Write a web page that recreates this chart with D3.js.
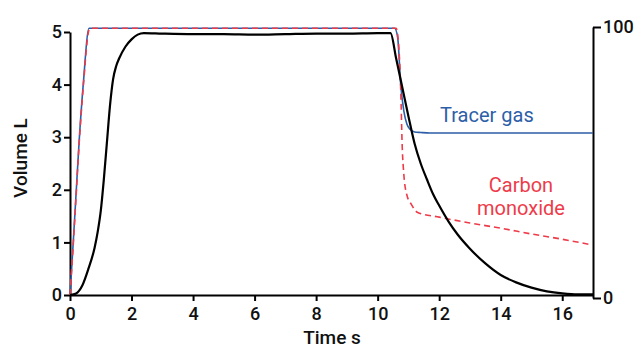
<!DOCTYPE html>
<html>
<head>
<meta charset="utf-8">
<script src="https://cdn.jsdelivr.net/npm/d3@7"></script>
<style>
  body { margin: 0; background: #fff; }
  svg text { font-family: Roboto, "DejaVu Sans", sans-serif; }
</style>
</head>
<body>
<div id="chart"></div>
<script>
// time (s) and volume (L)
const volTime = [0, 0.2, 0.4, 0.6, 0.8, 0.9, 1.0, 1.1, 1.2, 1.3, 1.4, 1.5, 1.6, 1.8, 2.0, 2.2, 2.4, 3, 4, 5, 6, 7, 8, 9, 10, 10.42, 10.6, 10.8, 11.0, 11.2, 11.4, 11.6, 11.8, 12.0, 12.3, 12.6, 13, 13.5, 14, 14.5, 15, 15.5, 16, 16.5, 17];
const volume = [0, 0.03, 0.18, 0.5, 0.9, 1.2, 1.6, 2.2, 2.9, 3.6, 4.1, 4.35, 4.5, 4.72, 4.86, 4.95, 4.98, 4.97, 4.96, 4.96, 4.95, 4.96, 4.97, 4.97, 4.98, 4.98, 4.5, 3.95, 3.4, 2.88, 2.5, 2.2, 1.92, 1.7, 1.4, 1.15, 0.88, 0.6, 0.38, 0.24, 0.14, 0.07, 0.03, 0.01, 0.01];

const tracerTime = [0, 0.1, 0.2, 0.3, 0.43, 0.62, 10.55, 10.65, 10.75, 10.85, 10.95, 11.05, 11.2, 11.4, 11.7, 17];
const tracer = [0, 0.95, 1.95, 2.95, 4.0, 5.07, 5.07, 4.9, 4.0, 3.5, 3.25, 3.15, 3.1, 3.09, 3.08, 3.08];

const coTime = [0, 0.1, 0.2, 0.3, 0.43, 0.64, 10.6, 10.7, 10.75, 10.8, 10.85, 10.95, 11.1, 11.3, 12, 13, 14, 15, 16, 16.9];
const co = [0, 0.9, 1.9, 2.9, 3.95, 5.07, 5.07, 4.6, 3.9, 2.8, 2.3, 1.9, 1.72, 1.57, 1.48, 1.37, 1.27, 1.16, 1.06, 0.96];

const xTicks = [0, 2, 4, 6, 8, 10, 12, 14, 16];
const yTicks = [0, 1, 2, 3, 4, 5];
const pctTicks = [0, 100];

const width = 640, height = 350;
const svg = d3.select('#chart').append('svg')
    .attr('width', width)
    .attr('height', height);

const x = d3.scaleLinear().domain([0, 17]).range([70, 593]);
const y = d3.scaleLinear().domain([0, 5]).range([295, 32]);
const yPct = d3.scaleLinear().domain([0, 100]).range([298, 27]);
const fmt = d3.format('d');

function styleAxis(g) {
    g.select('.domain').attr('stroke', '#000').attr('stroke-width', 2);
    g.selectAll('.tick line').attr('stroke', '#000').attr('stroke-width', 2);
    g.selectAll('.tick text')
        .attr('fill', '#111')
        .style('font-size', '18px')
        .style('font-weight', 500)
        .style('font-family', 'Roboto, sans-serif');
}

svg.append('g')
    .attr('transform', `translate(0,${y(0)})`)
    .call(d3.axisBottom(x).tickValues(xTicks).tickFormat(fmt).tickSize(6).tickSizeOuter(0).tickPadding(6))
    .call(styleAxis);

svg.append('g')
    .attr('transform', `translate(${x(0)},0)`)
    .call(d3.axisLeft(y).tickValues(yTicks).tickFormat(fmt).tickSize(6).tickSizeOuter(0).tickPadding(2))
    .call(styleAxis);

svg.append('g')
    .attr('transform', `translate(${x(17)},0)`)
    .call(d3.axisRight(yPct).tickValues(pctTicks).tickFormat(fmt).tickSize(8).tickSizeOuter(0).tickPadding(2))
    .call(styleAxis);

const lineOf = (ts, vs) => d3.line()
    .x((d, i) => x(ts[i]))
    .y(d => y(d))
    .curve(d3.curveMonotoneX)(vs);

svg.append('path')
    .attr('d', lineOf(tracerTime, tracer))
    .attr('fill', 'none')
    .attr('stroke', '#2d5ea8')
    .attr('stroke-width', 1.6);

svg.append('path')
    .attr('d', lineOf(coTime, co))
    .attr('fill', 'none')
    .attr('stroke', '#ee3b4a')
    .attr('stroke-width', 1.6)
    .attr('stroke-dasharray', '6,4');

svg.append('path')
    .attr('d', lineOf(volTime, volume))
    .attr('fill', 'none')
    .attr('stroke', '#000')
    .attr('stroke-width', 2.2);

// labels
svg.append('text')
    .attr('x', 440).attr('y', 122)
    .attr('fill', '#2d5ea8')
    .style('font-size', '20px')
    .text('Tracer gas');

svg.append('text')
    .attr('x', 521).attr('y', 192)
    .attr('text-anchor', 'middle')
    .attr('fill', '#ee3b4a')
    .style('font-size', '20px')
    .text('Carbon');

svg.append('text')
    .attr('x', 521).attr('y', 215)
    .attr('text-anchor', 'middle')
    .attr('fill', '#ee3b4a')
    .style('font-size', '20px')
    .text('monoxide');

svg.append('text')
    .attr('x', 332).attr('y', 344)
    .attr('text-anchor', 'middle')
    .attr('fill', '#111')
    .style('font-size', '19px')
    .style('font-weight', 500)
    .text('Time s');

svg.append('text')
    .attr('transform', 'translate(27,158) rotate(-90)')
    .attr('text-anchor', 'middle')
    .attr('fill', '#111')
    .style('font-size', '19px')
    .style('font-weight', 500)
    .text('Volume L');
</script>
</body>
</html>
